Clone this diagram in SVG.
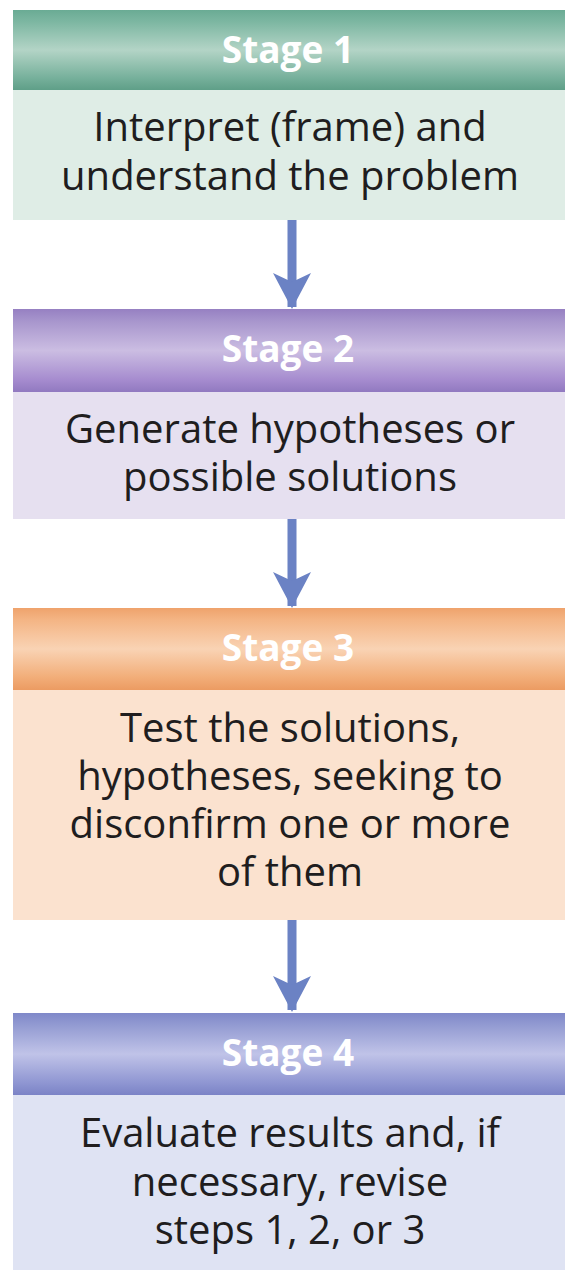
<svg xmlns="http://www.w3.org/2000/svg" width="565" height="1270" viewBox="0 0 565 1270">
  <defs>
    <linearGradient id="hdr-green" x1="0" y1="0" x2="0" y2="1">
      <stop offset="0" stop-color="#6aab94"/>
      <stop offset="0.15" stop-color="#7db7a2"/>
      <stop offset="0.5" stop-color="#b3d4c6"/>
      <stop offset="0.85" stop-color="#76b09b"/>
      <stop offset="1" stop-color="#5f9f88"/>
    </linearGradient>
    <linearGradient id="hdr-purple" x1="0" y1="0" x2="0" y2="1">
      <stop offset="0" stop-color="#9680c2"/>
      <stop offset="0.15" stop-color="#a896cd"/>
      <stop offset="0.5" stop-color="#cbbde2"/>
      <stop offset="0.85" stop-color="#a68ccf"/>
      <stop offset="1" stop-color="#9179c0"/>
    </linearGradient>
    <linearGradient id="hdr-orange" x1="0" y1="0" x2="0" y2="1">
      <stop offset="0" stop-color="#efa36c"/>
      <stop offset="0.15" stop-color="#f4b585"/>
      <stop offset="0.5" stop-color="#f9d3b4"/>
      <stop offset="0.85" stop-color="#f2ad78"/>
      <stop offset="1" stop-color="#ec9b62"/>
    </linearGradient>
    <linearGradient id="hdr-blue" x1="0" y1="0" x2="0" y2="1">
      <stop offset="0" stop-color="#7f88c9"/>
      <stop offset="0.15" stop-color="#939bd2"/>
      <stop offset="0.5" stop-color="#c0c3e8"/>
      <stop offset="0.85" stop-color="#8f96d2"/>
      <stop offset="1" stop-color="#7b83c6"/>
    </linearGradient>
    <!-- arrowhead drawn pointing along +x; orient turns it to the line direction -->
    <marker id="head" viewBox="0 0 36 38" refX="34" refY="19" markerWidth="36" markerHeight="38" markerUnits="userSpaceOnUse" orient="auto">
      <path d="M0 0 L9 19 L0 38 L36 19 Z" fill="#6b82c4"/>
    </marker>
  </defs>
  <style>
    .hdr { font-family: "Open Sans", "Noto Sans", sans-serif; font-weight: 700; font-size: 37px; fill: #ffffff; text-anchor: middle; }
    .body { font-family: "Open Sans", "Noto Sans", sans-serif; font-size: 40px; fill: #201d1e; text-anchor: middle; }
    .link { stroke: #6b82c4; stroke-width: 9; fill: none; }
  </style>
  <rect width="565" height="1270" fill="#ffffff"/>

  <g id="stage1">
    <rect x="13" y="10" width="552" height="80" fill="url(#hdr-green)"/>
    <rect x="13" y="90" width="552" height="130" fill="#dfede6"/>
    <text class="hdr" x="288" y="63">Stage 1</text>
    <text class="body" x="290" y="141">Interpret (frame) and</text>
    <text class="body" x="290" y="190">understand the problem</text>
  </g>

  <g id="stage2">
    <rect x="13" y="309" width="552" height="83" fill="url(#hdr-purple)"/>
    <rect x="13" y="392" width="552" height="127" fill="#e6e0f0"/>
    <text class="hdr" x="288" y="362">Stage 2</text>
    <text class="body" x="290" y="443">Generate hypotheses or</text>
    <text class="body" x="290" y="491">possible solutions</text>
  </g>

  <g id="stage3">
    <rect x="13" y="608" width="552" height="82" fill="url(#hdr-orange)"/>
    <rect x="13" y="690" width="552" height="230" fill="#fbe2cf"/>
    <text class="hdr" x="288" y="661">Stage 3</text>
    <text class="body" x="290" y="742">Test the solutions,</text>
    <text class="body" x="290" y="790">hypotheses, seeking to</text>
    <text class="body" x="290" y="838">disconfirm one or more</text>
    <text class="body" x="290" y="886">of them</text>
  </g>

  <g id="stage4">
    <rect x="13" y="1013" width="552" height="82" fill="url(#hdr-blue)"/>
    <rect x="13" y="1095" width="552" height="175" fill="#dfe3f3"/>
    <text class="hdr" x="288" y="1066">Stage 4</text>
    <text class="body" x="290" y="1147">Evaluate results and, if</text>
    <text class="body" x="290" y="1196">necessary, revise</text>
    <text class="body" x="290" y="1244">steps 1, 2, or 3</text>
  </g>

  <g id="connectors">
    <line class="link" x1="292" y1="220" x2="292" y2="307" marker-end="url(#head)"/>
    <line class="link" x1="292" y1="519" x2="292" y2="606" marker-end="url(#head)"/>
    <line class="link" x1="292" y1="920" x2="292" y2="1010" marker-end="url(#head)"/>
  </g>
</svg>
